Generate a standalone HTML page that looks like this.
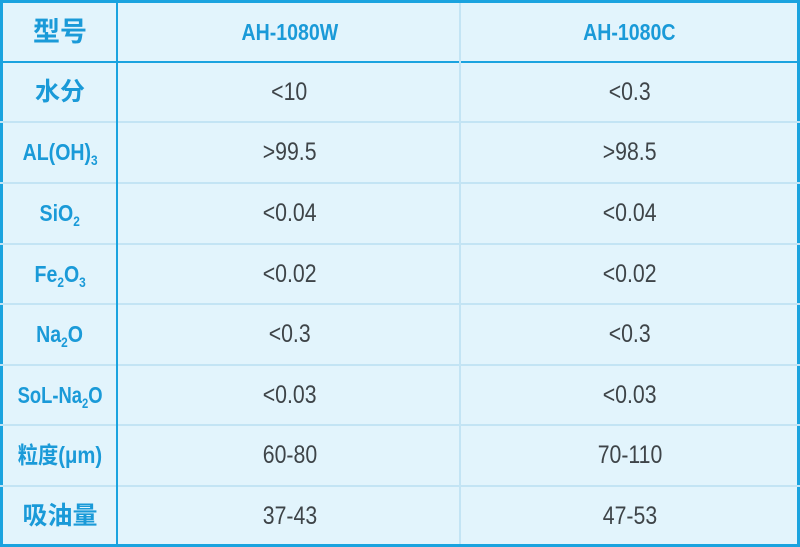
<!DOCTYPE html>
<html><head><meta charset="utf-8"><style>
body{margin:0;width:800px;height:547px;background:#fff;position:relative;overflow:hidden;font-family:"Liberation Sans","Noto Sans CJK SC",sans-serif}
#t{position:absolute;left:0;top:0;width:800px;height:547px;background:#e2f4fc;box-sizing:border-box;border:3px solid #1aa3df;border-top-width:3px}
.h{position:absolute;left:0;width:800px;height:2px;background:#c3e4f4}
.v{position:absolute;top:0;width:2px;height:547px}
.c{position:absolute;height:60px;line-height:60px;text-align:center;font-size:25px}
.k{left:3px;width:114px;color:#1a9ad8;font-weight:bold;font-size:23px}
.a{left:119px;width:341px;color:#3e4448}
.b{left:462px;width:335px;color:#3e4448}
.hd{color:#1a9ad8;font-weight:bold;font-size:23px}
sub{font-size:14px;vertical-align:-5px;line-height:0}
.n{display:inline-block;transform:scaleX(.85)}
</style></head><body>
<div id="t"></div>
<div class="h" style="top:61px;background:#1aa3df"></div>
<div class="h" style="top:121px"></div><div class="h" style="top:182px"></div><div class="h" style="top:243px"></div><div class="h" style="top:303px"></div><div class="h" style="top:364px"></div><div class="h" style="top:424px"></div><div class="h" style="top:485px"></div>
<div class="v" style="left:116px;background:#1aa3df"></div>
<div class="v" style="left:459px;background:#c3e4f4;top:3px;height:541px"></div>
<div class="c k" style="top:2px;font-size:27px">型号</div>
<div class="c a hd" style="top:2px"><span class="n">AH-1080W</span></div>
<div class="c b hd" style="top:2px"><span class="n">AH-1080C</span></div>
<div class="c k" style="top:62px;font-size:25px">水分</div><div class="c a" style="top:62px"><span class="n">&lt;10</span></div><div class="c b" style="top:62px"><span class="n">&lt;0.3</span></div>
<div class="c k" style="top:122px"><span class="n">AL(OH)<sub>3</sub></span></div><div class="c a" style="top:122px"><span class="n">&gt;99.5</span></div><div class="c b" style="top:122px"><span class="n">&gt;98.5</span></div>
<div class="c k" style="top:183px"><span class="n">SiO<sub>2</sub></span></div><div class="c a" style="top:183px"><span class="n">&lt;0.04</span></div><div class="c b" style="top:183px"><span class="n">&lt;0.04</span></div>
<div class="c k" style="top:244px"><span class="n">Fe<sub>2</sub>O<sub>3</sub></span></div><div class="c a" style="top:244px"><span class="n">&lt;0.02</span></div><div class="c b" style="top:244px"><span class="n">&lt;0.02</span></div>
<div class="c k" style="top:304px"><span class="n">Na<sub>2</sub>O</span></div><div class="c a" style="top:304px"><span class="n">&lt;0.3</span></div><div class="c b" style="top:304px"><span class="n">&lt;0.3</span></div>
<div class="c k" style="top:365px"><span class="n" style="transform:scaleX(.8)">SoL-Na<sub>2</sub>O</span></div><div class="c a" style="top:365px"><span class="n">&lt;0.03</span></div><div class="c b" style="top:365px"><span class="n">&lt;0.03</span></div>
<div class="c k" style="top:425px"><span class="n" style="transform:scaleX(.88)">粒度(μm)</span></div><div class="c a" style="top:425px"><span class="n">60-80</span></div><div class="c b" style="top:425px"><span class="n">70-110</span></div>
<div class="c k" style="top:486px;font-size:25px">吸油量</div><div class="c a" style="top:486px"><span class="n">37-43</span></div><div class="c b" style="top:486px"><span class="n">47-53</span></div>
</body></html>
